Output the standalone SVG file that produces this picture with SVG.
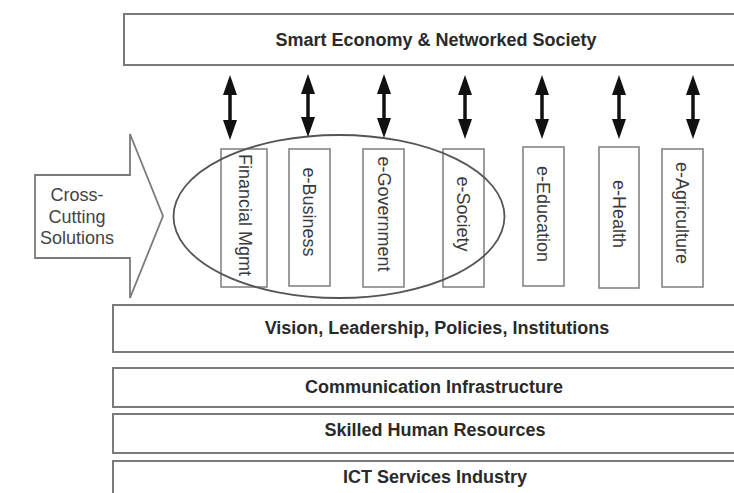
<svg xmlns="http://www.w3.org/2000/svg" width="734" height="493" viewBox="0 0 734 493">
<defs>
<style>
.band{fill:#fff;stroke:#7a7a7a;stroke-width:2}
.vbox{fill:#fff;stroke:#858585;stroke-width:1.6}
.bt{font-family:"Liberation Sans",Arial,sans-serif;font-size:18px;font-weight:bold;fill:#2a2a2a;text-anchor:middle}
.vt{font-family:"Liberation Sans",Arial,sans-serif;font-size:18px;fill:#3a3a3a;text-anchor:middle;dominant-baseline:central}
.ct{font-family:"Liberation Sans",Arial,sans-serif;font-size:18px;fill:#444;text-anchor:middle}
.conn line{stroke:#111;stroke-width:3.5}
</style>
<marker id="ah" viewBox="0 0 20 14" refX="15" refY="7" markerWidth="20" markerHeight="14" markerUnits="userSpaceOnUse" orient="auto-start-reverse">
<path d="M0,0 L20,7 L0,14 Z" fill="#111"/>
</marker>
</defs>
<rect width="734" height="493" fill="#fff"/>

<g id="top">
<rect class="band" x="124" y="14" width="620" height="51"/>
<text class="bt" x="436" y="46">Smart Economy &amp; Networked Society</text>
</g>

<g id="cross-cutting">
<path d="M35,175 L130,175 L130,134 L163,216 L130,298 L130,258 L35,258 Z" fill="#fff" stroke="#7a7a7a" stroke-width="1.8" stroke-linejoin="miter"/>
<text class="ct" x="77" y="201">Cross-</text>
<text class="ct" x="77" y="223">Cutting</text>
<text class="ct" x="77" y="244">Solutions</text>
</g>

<g id="financial">
<rect class="vbox" x="221" y="149" width="46" height="138"/>
<text class="vt" transform="translate(245,215) rotate(90)">Financial Mgmt</text>
</g>
<g id="ebusiness">
<rect class="vbox" x="289" y="149" width="41" height="137"/>
<text class="vt" transform="translate(309,212) rotate(90)">e-Business</text>
</g>
<g id="egovernment">
<rect class="vbox" x="363" y="149" width="41" height="138"/>
<text class="vt" transform="translate(384,214) rotate(90)">e-Government</text>
</g>
<g id="esociety">
<rect class="vbox" x="443" y="149" width="41" height="138"/>
<text class="vt" transform="translate(463,214) rotate(90)">e-Society</text>
</g>
<g id="eeducation">
<rect class="vbox" x="523" y="147" width="41" height="139"/>
<text class="vt" transform="translate(543,214) rotate(90)">e-Education</text>
</g>
<g id="ehealth">
<rect class="vbox" x="599" y="147" width="40" height="141"/>
<text class="vt" transform="translate(619,214) rotate(90)">e-Health</text>
</g>
<g id="eagriculture">
<rect class="vbox" x="662" y="149" width="41" height="138"/>
<text class="vt" transform="translate(682,213) rotate(90)">e-Agriculture</text>
</g>

<g id="cluster">
<ellipse cx="339" cy="216.5" rx="165.5" ry="81.5" fill="none" stroke="#555" stroke-width="1.8"/>
</g>

<g id="vision">
<rect class="band" x="113" y="305" width="630" height="47"/>
<text class="bt" x="437" y="334">Vision, Leadership, Policies, Institutions</text>
</g>
<g id="communication">
<rect class="band" x="113" y="368" width="630" height="39"/>
<text class="bt" x="434" y="393">Communication Infrastructure</text>
</g>
<g id="skilled">
<rect class="band" x="113" y="414" width="630" height="39"/>
<text class="bt" x="435" y="436">Skilled Human Resources</text>
</g>
<g id="ict">
<rect class="band" x="113" y="461" width="630" height="45"/>
<text class="bt" x="435" y="483">ICT Services Industry</text>
</g>

<g class="conn" id="connectors">
<line x1="230" y1="80" x2="230" y2="135" marker-start="url(#ah)" marker-end="url(#ah)"/>
<line x1="308" y1="79" x2="308" y2="132" marker-start="url(#ah)" marker-end="url(#ah)"/>
<line x1="384" y1="79" x2="384" y2="133" marker-start="url(#ah)" marker-end="url(#ah)"/>
<line x1="465" y1="80" x2="465" y2="134" marker-start="url(#ah)" marker-end="url(#ah)"/>
<line x1="542" y1="80" x2="542" y2="134" marker-start="url(#ah)" marker-end="url(#ah)"/>
<line x1="619" y1="80" x2="619" y2="134" marker-start="url(#ah)" marker-end="url(#ah)"/>
<line x1="693" y1="80" x2="693" y2="134" marker-start="url(#ah)" marker-end="url(#ah)"/>
</g>
</svg>
